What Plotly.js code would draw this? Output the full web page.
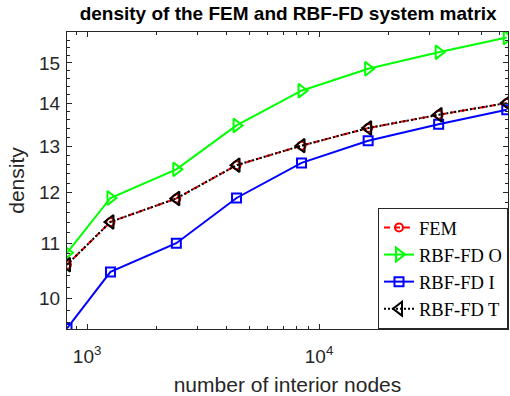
<!DOCTYPE html>
<html>
<head>
<meta charset="utf-8">
<script src="https://cdn.plot.ly/plotly-3.0.1.min.js"></script>
<style>html,body{margin:0;padding:0;background:#fff;}#chart{width:510px;height:396px;}</style>
</head>
<body>
<div id="chart"></div>
<script>
// Data
const nodes = [819, 1261, 2425, 4409, 8405, 16290, 32800, 64500];
const femDensity = [10.60, 11.41, 11.88, 12.58, 13.01, 13.41, 13.72, 14.00];
const rbfO = [10.82, 11.89, 12.49, 13.47, 14.30, 14.85, 15.28, 15.67];
const rbfI = [9.50, 10.47, 11.00, 11.89, 12.63, 13.12, 13.50, 13.84];
const rbfT = [10.60, 11.41, 11.88, 12.58, 13.01, 13.41, 13.72, 14.00];
const seriesNames = ['FEM', 'RBF-FD O', 'RBF-FD I', 'RBF-FD T'];
const xTickVals = [1000, 10000];
const xTickText = ['10<sup>3</sup>', '10<sup>4</sup>'];
const xMinorVals = [900, 2000, 3000, 4000, 5000, 6000, 7000, 8000, 9000, 20000, 30000, 40000, 50000, 60000];
const yTickVals = [10, 11, 12, 13, 14, 15];
const yMinorVals = [9.6, 9.8, 10.2, 10.4, 10.6, 10.8, 11.2, 11.4, 11.6, 11.8, 12.2, 12.4, 12.6, 12.8, 13.2, 13.4, 13.6, 13.8, 14.2, 14.4, 14.6, 14.8, 15.2, 15.4, 15.6, 15.8];

const traces = [
  {x: nodes, y: femDensity, name: seriesNames[0], mode: 'lines+markers',
   line: {color: '#ff0000', width: 2, dash: '6px,4px'},
   marker: {symbol: 'circle-open', size: 8, color: '#ff0000', line: {width: 2, color: '#ff0000'}}},
  {x: nodes, y: rbfO, name: seriesNames[1], mode: 'lines+markers',
   line: {color: '#00ff00', width: 2},
   marker: {symbol: 'triangle-right-open', size: 12, color: '#00ff00', line: {width: 2, color: '#00ff00'}}},
  {x: nodes, y: rbfI, name: seriesNames[2], mode: 'lines+markers',
   line: {color: '#0000ff', width: 2},
   marker: {symbol: 'square-open', size: 9, color: '#0000ff', line: {width: 2, color: '#0000ff'}}},
  {x: nodes, y: rbfT, name: seriesNames[3], mode: 'lines+markers',
   line: {color: '#000000', width: 2, dash: '2px,2px'},
   marker: {symbol: 'triangle-left-open', size: 12, color: '#000000', line: {width: 2, color: '#000000'}}}
];

const axisCommon = {
  showgrid: false, zeroline: false, showline: true, linecolor: '#262626', linewidth: 1,
  mirror: 'ticks', ticks: 'inside', ticklen: 5, tickwidth: 1, tickcolor: '#262626',
  tickfont: {family: 'Liberation Sans, Arial, sans-serif', size: 19, color: '#262626'}
};

const layout = {
  width: 510, height: 396,
  margin: {l: 67, r: 2, t: 32, b: 67},
  paper_bgcolor: '#ffffff', plot_bgcolor: '#ffffff',
  showlegend: true,
  title: {text: '<b>density of the FEM and RBF-FD system matrix</b>',
          font: {family: 'Liberation Sans, Arial, sans-serif', size: 19, color: '#000000'},
          x: 0.565, xanchor: 'center', y: 0.967, yanchor: 'middle'},
  xaxis: Object.assign({}, axisCommon, {
    type: 'log', range: [Math.log10(819), Math.log10(65300)],
    tickmode: 'array', tickvals: xTickVals, ticktext: xTickText, ticklabelstandoff: 10,
    minor: {tickmode: 'array', tickvals: xMinorVals, ticks: 'inside', ticklen: 3, tickcolor: '#262626', tickwidth: 1},
    title: {text: 'number of interior nodes', standoff: 11,
            font: {family: 'Liberation Sans, Arial, sans-serif', size: 21, color: '#262626'}}
  }),
  yaxis: Object.assign({}, axisCommon, {
    type: 'log', range: [Math.log10(9.49), Math.log10(15.82)],
    tickmode: 'array', tickvals: yTickVals, ticktext: yTickVals.map(String), ticklabelstandoff: 2,
    minor: {tickmode: 'array', tickvals: yMinorVals, ticks: 'inside', ticklen: 3, tickcolor: '#262626', tickwidth: 1},
    title: {text: 'density', standoff: 8,
            font: {family: 'Liberation Sans, Arial, sans-serif', size: 21, color: '#262626'}}
  }),
  legend: {x: 1, xanchor: 'right', y: 0, yanchor: 'bottom',
           bgcolor: '#ffffff', bordercolor: '#262626', borderwidth: 1,
           font: {family: 'Liberation Serif, Times New Roman, serif', size: 18.5, color: '#000000'},
           tracegroupgap: 0, itemwidth: 30}
};

Plotly.newPlot('chart', traces, layout, {displayModeBar: false, staticPlot: true});
</script>
</body>
</html>
